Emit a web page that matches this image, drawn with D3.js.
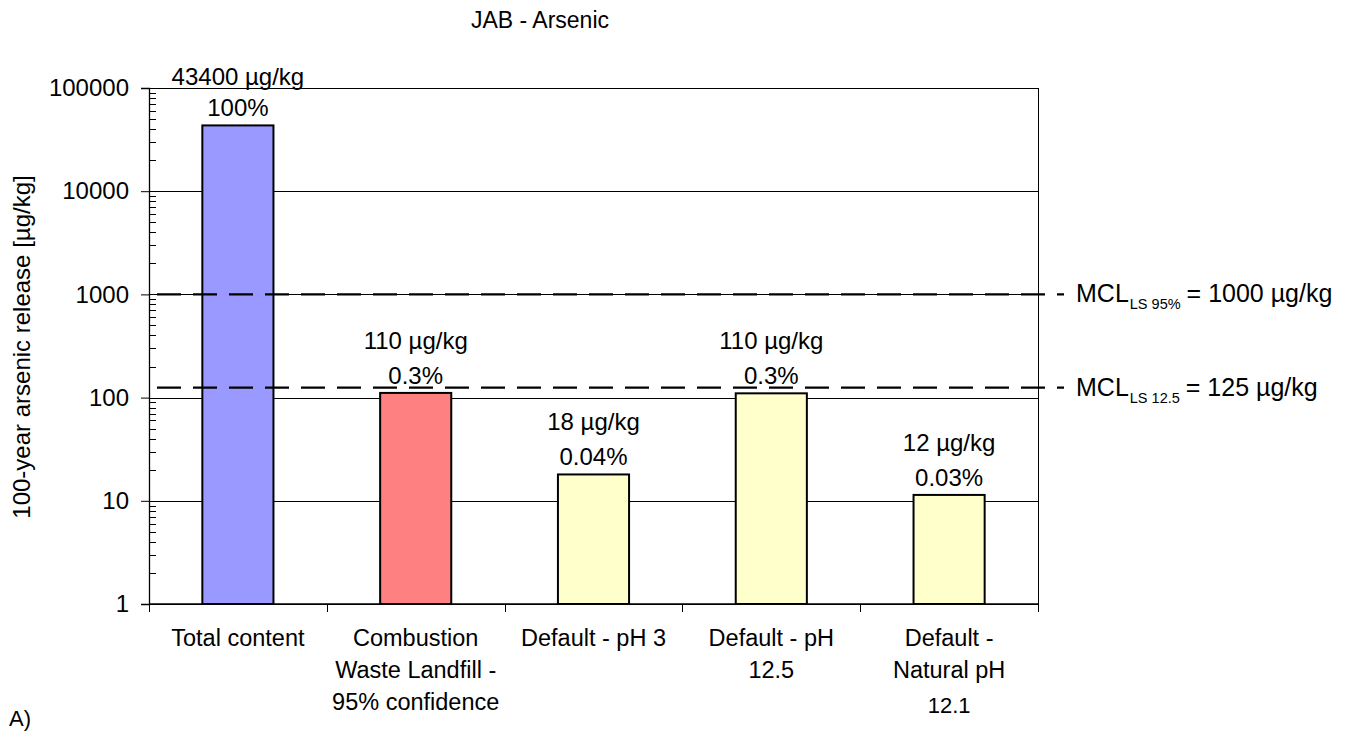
<!DOCTYPE html>
<html><head><meta charset="utf-8">
<script src="https://cdn.jsdelivr.net/npm/d3@7"></script>
<style>body{margin:0;background:#fff}svg{display:block}text{font-family:"Liberation Sans",Arial,sans-serif;fill:#000}</style>
</head><body>
<svg id="c" width="1356" height="731"></svg>
<script>
const categories = [["Total content"],["Combustion","Waste Landfill -","95% confidence"],["Default - pH 3"],["Default - pH","12.5"],["Default -","Natural pH","12.1"]];
const values = [43400, 111, 18, 110, 11.4];
const valueLabels = ["43400 µg/kg","110 µg/kg","18 µg/kg","110 µg/kg","12 µg/kg"];
const pctLabels = ["100%","0.3%","0.04%","0.3%","0.03%"];
const barColors = ["#9999FF","#FF8080","#FFFFCC","#FFFFCC","#FFFFCC"];
const yTicks = [1,10,100,1000,10000,100000];
const limits = [{v:1000, main:"MCL", sub:"LS 95%", rest:"= 1000 µg/kg"},{v:125, main:"MCL", sub:"LS 12.5", rest:"= 125 µg/kg"}];
const title = "JAB - Arsenic";
const yTitle = "100-year arsenic release [µg/kg]";

const svg = d3.select("#c");
const L=149, R=1038, T=88, B=604;
const x = d3.scaleBand().domain(d3.range(categories.length)).range([L,R]).paddingInner(0).paddingOuter(0);
const y = d3.scaleLog().domain([1,100000]).range([B,T]);
const barW = x.bandwidth()*0.4;
const FS = "24px";

// gridlines
svg.append("g").selectAll("line").data(yTicks).join("line")
  .attr("x1",L).attr("x2",R).attr("y1",d=>Math.round(y(d))+0.5).attr("y2",d=>Math.round(y(d))+0.5)
  .attr("stroke","#000").attr("stroke-width",1);
// right border
svg.append("line").attr("x1",R+0.5).attr("x2",R+0.5).attr("y1",T).attr("y2",B).attr("stroke","#000");

// bars
svg.append("g").selectAll("rect").data(values).join("rect")
  .attr("x",(d,i)=>x(i)+x.bandwidth()/2-barW/2).attr("width",barW)
  .attr("y",d=>y(d)).attr("height",d=>B-y(d))
  .attr("fill",(d,i)=>barColors[i]).attr("stroke","#000").attr("stroke-width",2);

// y axis
const yAxis = d3.axisLeft(y).tickValues(yTicks).tickFormat(d3.format("d")).tickSize(8).tickPadding(12);
const ga = svg.append("g").attr("transform",`translate(${L},0)`).call(yAxis);
ga.select(".domain").attr("stroke","#000").attr("stroke-width",1.3);
ga.selectAll("text").style("font-size",FS).style("font-family","Liberation Sans, Arial, sans-serif");
// minor ticks
const minor=[];
for(let e=0;e<5;e++) for(let k=2;k<=9;k++) minor.push(k*Math.pow(10,e));
svg.append("g").selectAll("line").data(minor).join("line")
  .attr("x1",L).attr("x2",L+7).attr("y1",d=>Math.round(y(d))+0.5).attr("y2",d=>Math.round(y(d))+0.5)
  .attr("stroke","#000").attr("stroke-width",1);

// x axis
svg.append("line").attr("x1",L).attr("x2",R).attr("y1",B).attr("y2",B).attr("stroke","#000").attr("stroke-width",1.3);
const bounds = d3.range(categories.length+1).map(i=> i<categories.length? x(i): R);
svg.append("g").selectAll("line").data(bounds).join("line")
  .attr("x1",d=>Math.round(d)+0.5).attr("x2",d=>Math.round(d)+0.5).attr("y1",B).attr("y2",B+8).attr("stroke","#000");

// category labels
const cl = svg.append("g");
categories.forEach((lines,i)=>{
  lines.forEach((t,j)=>{
    const yy = (i===4 && j===2) ? 713 : 646+j*32;
    cl.append("text").attr("x",x(i)+x.bandwidth()/2).attr("y",yy).attr("text-anchor","middle")
      .style("font-size", (i===4 && j===2)?"22px":"23.5px").text(t);
  });
});

// value labels
values.forEach((v,i)=>{
  const cx = x(i)+x.bandwidth()/2;
  svg.append("text").attr("x",cx).attr("y",y(v)-9).attr("text-anchor","middle").style("font-size",FS).text(pctLabels[i]);
  svg.append("text").attr("x",cx).attr("y",y(v)-(i===0?40:44)).attr("text-anchor","middle").style("font-size",FS).text(valueLabels[i]);
});

// limit lines
limits.forEach(l=>{
  svg.append("line").attr("x1",157).attr("x2",1064).attr("y1",y(l.v)).attr("y2",y(l.v))
    .attr("stroke","#000").attr("stroke-width",2.4).attr("stroke-dasharray","24,12");
  const t = svg.append("text").attr("x",1076).attr("y",y(l.v)+8).style("font-size","25px");
  t.append("tspan").text(l.main);
  t.append("tspan").attr("dx",1).attr("dy",7).style("font-size","14.5px").text(l.sub);
  t.append("tspan").attr("dx",6).attr("dy",-7).text(l.rest);
});

// title
svg.append("text").attr("x",540).attr("y",28).attr("text-anchor","middle").style("font-size","23px").text(title);
// y title
svg.append("text").attr("transform","translate(30,347) rotate(-90)").attr("text-anchor","middle").style("font-size",FS).text(yTitle);
// panel letter
svg.append("text").attr("x",9).attr("y",726).style("font-size","22px").text("A)");
</script>
</body></html>
